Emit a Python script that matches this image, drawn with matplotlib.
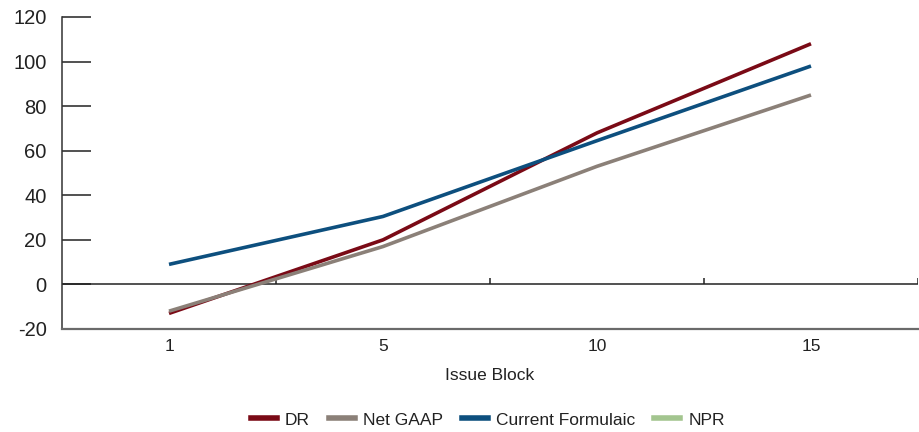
import matplotlib
matplotlib.use("Agg")
import matplotlib.pyplot as plt
from matplotlib.lines import Line2D

plt.rcParams['font.family'] = ['Liberation Sans', 'DejaVu Sans']

issue_blocks = ["1", "5", "10", "15"]
dr = [-13, 20, 68, 108]
net_gaap = [-12, 17, 53, 85]
current_formulaic = [9, 30.5, 64.5, 98]
npr = [None, None, None, None]

series_names = ["DR", "Net GAAP", "Current Formulaic", "NPR"]
series_colors = ["#7a0a16", "#8b8078", "#0d4f7e", "#a3c58f"]

fig = plt.figure(figsize=(9.19, 4.32), dpi=100)
W, H = 919, 432
ax = fig.add_axes([62 / W, (H - 329) / H, (918 - 62) / W, (329 - 17) / H])

x = list(range(len(issue_blocks)))
for vals, color in zip([dr, net_gaap, current_formulaic], series_colors[:3]):
    ax.plot(x, vals, color=color, lw=2.6, solid_capstyle='butt', zorder=3)

ax.set_xlim(-0.5, len(issue_blocks) - 0.5)
ax.set_ylim(-20, 120)
ax.set_yticks(range(-20, 121, 20))
ax.set_yticklabels([str(v) for v in range(-20, 121, 20)], fontsize=14.5, color="#222222")
ax.tick_params(axis='y', direction='in', length=21, width=1.2, color="#333333", pad=11)

ax.set_xticks(x)
ax.set_xticklabels(issue_blocks, fontsize=12.5, color="#222222")
ax.tick_params(axis='x', length=0, pad=7)

# category axis crossing at zero with boundary ticks
ax.axhline(0, color="#222222", lw=1.1, zorder=2)
bounds = [i + 0.5 for i in x]
ax.vlines(bounds, 0, 2.8, color="#222222", lw=1.1, zorder=2)

for side in ["top", "right"]:
    ax.spines[side].set_visible(False)
ax.spines["left"].set_color("#333333")
ax.spines["left"].set_linewidth(1.1)
ax.spines["bottom"].set_color("#6a6a6a")
ax.spines["bottom"].set_linewidth(1.6)

ax.set_xlabel("Issue Block", fontsize=12.5, color="#222222", labelpad=10)

handles = [Line2D([0], [0], color=c, lw=4) for c in series_colors]
fig.legend(handles, series_names, loc='center', bbox_to_anchor=(488 / W, 1 - 420 / H),
           ncol=4, frameon=False, fontsize=12.5, handlelength=1.5, handletextpad=0.45,
           columnspacing=1.1, labelcolor="#222222")

fig.savefig("out.png", dpi=100)
